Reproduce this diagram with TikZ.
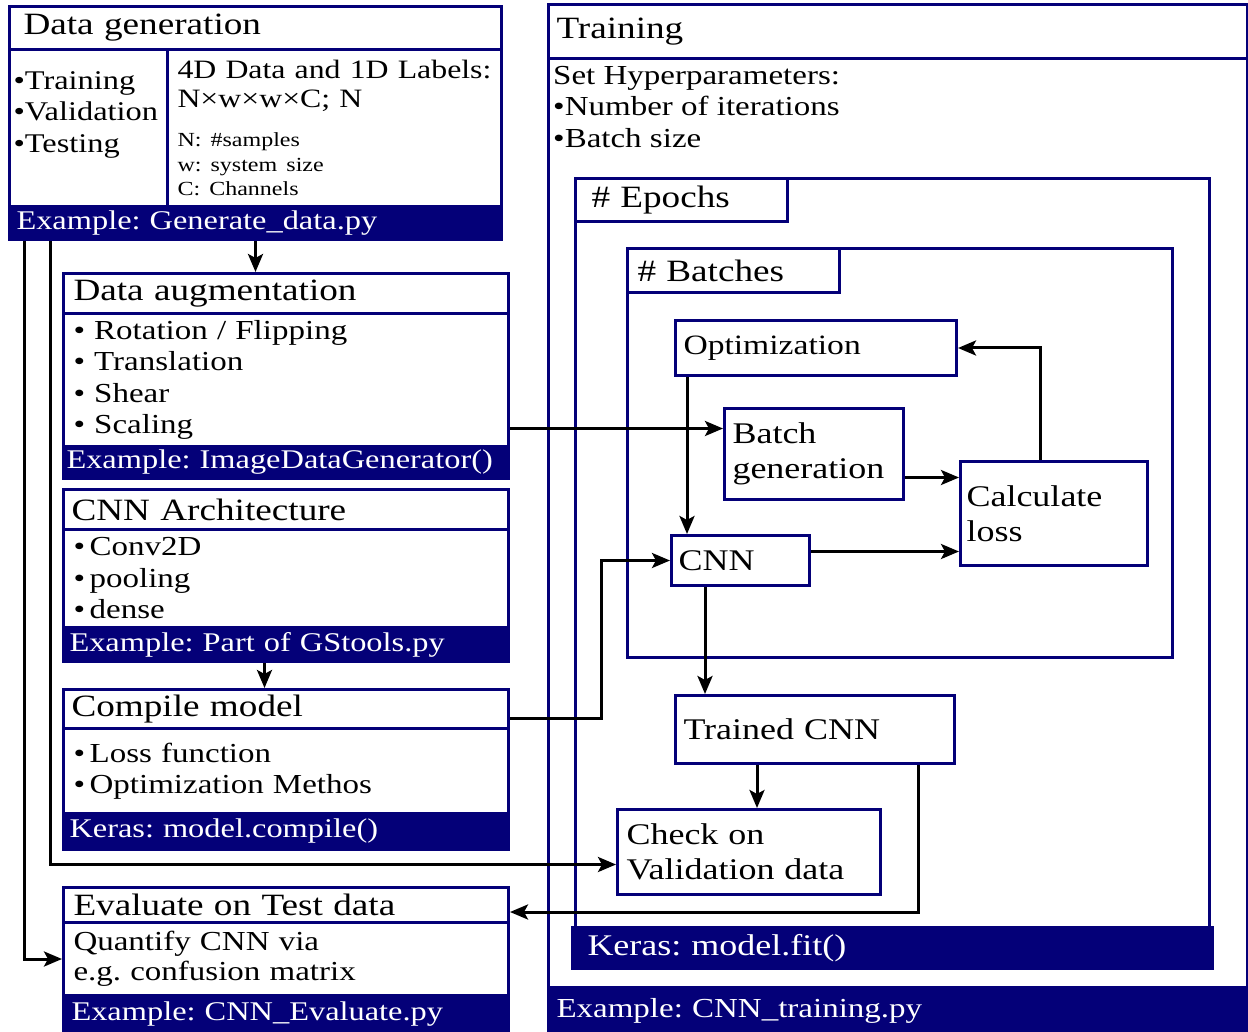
\documentclass[tikz,border=0pt]{standalone}
\usepackage{fontspec}
\setmainfont[FakeStretch=1.2]{Liberation Serif}
\usetikzlibrary{arrows.meta}
\definecolor{navy}{RGB}{4,0,120}
\frenchspacing

\begin{document}
\begin{tikzpicture}[x=1pt, y=-1pt,
 box/.style={draw=navy, line width=3pt, fill=white, anchor=north west, align=left, inner xsep=8pt, inner ysep=0pt, font=\fontsize{27.5}{31.5}\selectfont},
 hd/.style={box, font=\fontsize{31}{35}\selectfont},
 ft/.style={box, fill=navy, text=white, font=\fontsize{27}{31}\selectfont},
 rb/.style={box, font=\fontsize{30}{35}\selectfont},
 frame/.style={draw=navy, line width=3pt, fill=white, anchor=north west, inner sep=0pt},
 wd/.style={text width=#1pt-2*\pgfkeysvalueof{/pgf/inner xsep}},
 ht/.style={minimum height=#1pt},
 arr/.style={black, line width=3pt, -{Stealth[length=18pt, width=15pt, inset=4pt]}}]
\useasboundingbox (0,0) rectangle (1248,1032);

\node[hd, inner xsep=14pt, wd=492, ht=43] (gen) at (8,5) {Data generation};
\node[box, font=\fontsize{27}{31.5}\selectfont, inner xsep=4pt, wd=158, ht=157] (genl) at (8,48) {•Training\\•Validation\\•Testing\\[1pt]\mbox{}};
\node[box, inner xsep=10pt, wd=334, ht=157] (genr) at (166,48) {\fontsize{26.5}{29}\selectfont 4D Data and 1D Labels:\\N×w×w×C; N\\[15pt]\fontsize{20}{24.5}\selectfont N: \#samples\\w: system size\\C: Channels\par};
\node[ft, inner xsep=7pt, wd=492, ht=33] (genf) at (8,205) {Example: Generate\_data.py};

\node[hd, inner xsep=10pt, wd=445, ht=40] (augt) at (62,272) {Data augmentation};
\node[box, inner xsep=10pt, wd=445, ht=133] (augb) at (62,312) {• Rotation / Flipping\\• Translation\\• Shear\\• Scaling};
\node[ft, inner xsep=3pt, wd=445, ht=32] (augf) at (62,445) {Example: ImageDataGenerator()};

\node[hd, inner xsep=8pt, wd=445, ht=40] (archt) at (62,488) {CNN Architecture};
\node[box, inner xsep=10pt, wd=445, ht=98] (archb) at (62,528) {•\,Conv2D\\•\,pooling\\•\,dense};
\node[ft, inner xsep=6pt, wd=445, ht=34] (archf) at (62,626) {Example: Part of GStools.py};

\node[hd, inner xsep=8pt, wd=445, ht=39] (compt) at (62,688) {Compile model};
\node[box, inner xsep=10pt, wd=445, ht=85] (compb) at (62,727) {•\,Loss function\\•\,Optimization Methos};
\node[ft, inner xsep=6pt, wd=445, ht=36] (compf) at (62,812) {Keras: model.compile()};

\node[hd, inner xsep=10pt, wd=445, ht=35] (evalt) at (62,886) {Evaluate on Test data};
\node[box, font=\fontsize{27.5}{30}\selectfont, inner xsep=10pt, wd=445, ht=73] (evalb) at (62,921) {Quantify CNN via\\e.g. confusion matrix};
\node[ft, inner xsep=8pt, wd=445, ht=38] (evalf) at (62,994) {Example: CNN\_Evaluate.py};

\node[frame, minimum width=699, minimum height=929] (trainb) at (547,57) {};
\node[hd, inner xsep=8pt, wd=699, ht=54] (traint) at (547,3) {Training};
\node[ft, font=\fontsize{27.5}{31}\selectfont, inner xsep=8pt, wd=699, ht=46] (trainf) at (547,986) {Example: CNN\_training.py};
\node[anchor=north west, inner sep=0pt, align=left, font=\fontsize{27.5}{31.5}\selectfont] (hyper) at (553,66) {Set Hyperparameters:\\•Number of iterations\\•Batch size};
\node[frame, minimum width=634, minimum height=749] (epochs) at (574,177) {};
\node[ft, font=\fontsize{30}{35}\selectfont, inner xsep=15pt, wd=640, ht=41] (fit) at (571,926) {Keras: model.fit()};
\node[hd, inner xsep=16pt, wd=212, ht=43] (epocht) at (574,177) {\# Epochs};
\node[frame, minimum width=545, minimum height=409] (batches) at (626,247) {};
\node[hd, inner xsep=10pt, wd=212, ht=44] (batcht) at (626,247) {\# Batches};
\node[rb, font=\fontsize{28}{35}\selectfont, inner xsep=8pt, wd=281, ht=55] (opt) at (674,319) {Optimization};
\node[rb, inner xsep=8pt, wd=179, ht=91] (bgen) at (723,407) {Batch\\generation};
\node[rb, inner xsep=6pt, wd=187, ht=104] (loss) at (959,460) {Calculate\\loss};
\node[rb, inner xsep=7pt, wd=138, ht=50] (cnn) at (670,534) {CNN};
\node[rb, inner xsep=8pt, wd=279, ht=68] (trained) at (674,694) {Trained CNN};
\node[rb, inner xsep=9pt, wd=263, ht=85] (check) at (616,808) {Check on\\Validation data};

\coordinate (bgin) at ([yshift=25.5pt]bgen.west);
\coordinate (bgout) at ([yshift=-23.5pt]bgen.east);
\coordinate (cnnout) at ([yshift=9pt]cnn.east);
\coordinate (cnnbot) at ([xshift=35pt]cnn.south west);
\coordinate (trbot) at ([xshift=83pt]trained.south west);

\draw[arr] (genf.south) -- (genf.south |- augt.north);
\draw[arr] ([xshift=16pt]genf.south west) |- (evalb.west);
\draw[arr] ([xshift=42pt]genf.south west) |- ([yshift=-12.5pt]check.west);
\draw[arr] ([xshift=-21.5pt]archf.south) -- ([xshift=-21.5pt]compt.north);
\draw[arr] (augb.east |- bgin) -- (bgin);
\draw[arr] ([yshift=-9.5pt]compt.east) -- ++(91,0) |- (cnn.west);
\draw[arr] ([xshift=13pt]opt.south west) -- ([xshift=17pt]cnn.north west);
\draw[arr] (bgout) -- (bgout -| loss.west);
\draw[arr] (cnnout) -- (cnnout -| loss.west);
\draw[arr] ([xshift=81pt]loss.north west) |- (opt.east);
\draw[arr] (cnnbot) -- (cnnbot |- trained.north);
\draw[arr] (trbot) -- (trbot |- check.north);
\draw[arr] ([xshift=-38pt]trained.south east) |- ([yshift=-7pt]evalt.east);
\end{tikzpicture}
\end{document}
